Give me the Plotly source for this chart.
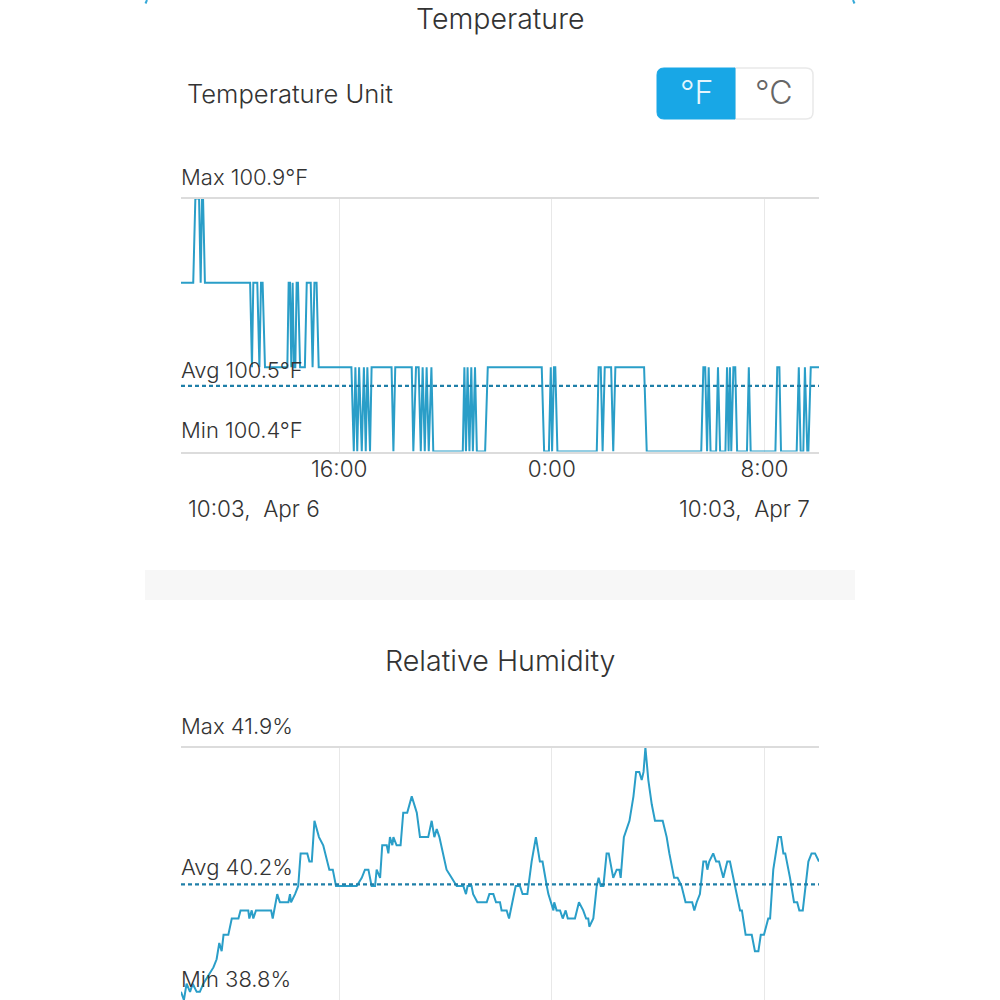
import plotly.graph_objects as go

# hours since 10:03 Apr 6, temperature in F (sensor steps by 0.1 C)
temp_hours = [0, .46, .54, .68, .74, .79, .83, .90, 2.60, 2.67, 2.72, 2.87, 2.95, 3.01, 3.07, 3.16,
              4.00, 4.05, 4.10, 4.15, 4.20, 4.25, 4.30, 4.35, 4.40, 4.48, 4.66, 4.73, 4.88, 4.95, 5.02, 5.10, 5.18,
              6.41, 6.50, 6.56, 6.63, 6.70, 6.80, 6.88, 6.95, 7.01, 7.11, 7.17, 7.92, 7.99, 8.06,
              8.68, 8.74, 8.84, 8.94, 9.02, 9.09, 9.17, 9.24, 9.32, 9.42, 9.49,
              10.60, 10.66, 10.72, 10.78, 10.85, 10.92, 10.98, 11.06, 11.13, 11.44, 11.54,
              13.57, 13.66, 13.84, 13.91, 13.96, 14.03, 14.08, 14.16,
              15.64, 15.71, 15.79, 15.86, 15.94, 16.18, 16.26, 16.34, 17.42, 17.52,
              19.57, 19.65, 19.72, 19.79, 19.85, 19.92, 20.13, 20.20, 20.28,
              20.48, 20.54, 20.60, 20.65, 20.70, 20.78, 20.85, 20.92, 21.29, 21.36, 21.43,
              22.36, 22.43, 22.51, 22.57, 23.16, 23.24, 23.31, 23.41, 23.47, 23.56, 23.60, 23.69, 24.0]
temp_values = [100.76, 100.76, 100.94, 100.94, 100.76, 100.94, 100.94, 100.76, 100.76, 100.58, 100.76, 100.76,
               100.58, 100.76, 100.76, 100.58,
               100.58, 100.76, 100.76, 100.58, 100.76, 100.58, 100.58, 100.76, 100.76, 100.58, 100.58, 100.76,
               100.76, 100.58, 100.76, 100.76, 100.58,
               100.58, 100.4, 100.58, 100.4, 100.58, 100.4, 100.58, 100.4, 100.58, 100.4, 100.58, 100.58, 100.4, 100.58,
               100.58, 100.4, 100.58, 100.58, 100.4, 100.58, 100.4, 100.58, 100.4, 100.58, 100.4,
               100.4, 100.58, 100.4, 100.58, 100.4, 100.58, 100.4, 100.58, 100.4, 100.4, 100.58,
               100.58, 100.4, 100.4, 100.58, 100.4, 100.58, 100.58, 100.4,
               100.4, 100.58, 100.58, 100.4, 100.58, 100.58, 100.4, 100.58, 100.58, 100.4,
               100.4, 100.58, 100.58, 100.4, 100.58, 100.4, 100.4, 100.58, 100.4,
               100.4, 100.58, 100.4, 100.58, 100.4, 100.58, 100.58, 100.4, 100.4, 100.58, 100.4,
               100.4, 100.58, 100.58, 100.4, 100.4, 100.58, 100.4, 100.4, 100.58, 100.4, 100.4, 100.58, 100.58]
temp_avg = 100.54

hum_hours = [0, .11, .21, .34, .44, .59, .71, .84, 1.03, 1.22, 1.34, 1.44, 1.53, 1.60, 1.78, 1.91, 2.16, 2.24,
             2.53, 2.57, 2.66, 2.72, 2.82, 3.39, 3.45, 3.62, 3.72, 4.04, 4.10, 4.14, 4.29, 4.41, 4.50, 4.75,
             4.83, 4.92, 5.02, 5.19, 5.35, 5.58, 5.71, 5.83, 5.98, 6.23, 6.29, 6.61, 6.80, 6.92, 7.05, 7.17,
             7.30, 7.36, 7.49, 7.57, 7.74, 7.80, 7.86, 7.95, 7.99, 8.11, 8.26, 8.36, 8.51, 8.68, 8.87, 8.99,
             9.30, 9.43, 9.53, 9.62, 9.72, 9.99, 10.18, 10.37, 10.62, 10.72, 10.78, 10.93, 10.99, 11.15, 11.50,
             11.60, 11.75, 11.85, 12.00, 12.06, 12.25, 12.34, 12.59, 12.75, 12.85, 13.03, 13.19, 13.35, 13.50,
             13.60, 13.76, 13.82, 14.01, 14.04, 14.13, 14.26, 14.36, 14.47, 14.55, 14.82, 14.97, 15.13, 15.24,
             15.32, 15.36, 15.51, 15.64, 15.71, 15.79, 15.89, 16.01, 16.09, 16.26, 16.39, 16.49, 16.54, 16.66,
             16.76, 16.87, 17.02, 17.12, 17.24, 17.33, 17.40, 17.47, 17.58, 17.71, 17.83, 18.12, 18.27, 18.37,
             18.55, 18.68, 18.83, 18.98, 19.23, 19.31, 19.40, 19.52, 19.65, 19.75, 19.80, 19.87, 20.02, 20.13,
             20.24, 20.40, 20.55, 20.65, 21.03, 21.10, 21.24, 21.47, 21.59, 21.72, 21.81, 21.93, 22.09, 22.16,
             22.28, 22.47, 22.57, 22.66, 22.73, 22.91, 23.06, 23.18, 23.26, 23.39, 23.60, 23.72, 23.85, 24.00]
hum_values = [38.9, 38.8, 39.0, 38.9, 39.0, 38.9, 38.9, 39.0, 39.1, 39.2, 39.3, 39.5, 39.4, 39.6, 39.6, 39.8, 39.8, 39.9,
              39.9, 39.8, 39.9, 39.8, 39.9, 39.9, 39.8, 40.1, 40.0, 40.0, 40.1, 40.0, 40.1, 40.2, 40.6, 40.6,
              40.5, 40.5, 41.0, 40.8, 40.7, 40.4, 40.4, 40.2, 40.2, 40.2, 40.2, 40.2, 40.3, 40.4, 40.4, 40.2,
              40.2, 40.4, 40.3, 40.7, 40.7, 40.6, 40.8, 40.7, 40.8, 40.7, 40.7, 41.1, 41.1, 41.3, 41.1, 40.8,
              40.8, 41.0, 40.8, 40.9, 40.8, 40.4, 40.3, 40.2, 40.2, 40.1, 40.2, 40.2, 40.1, 40.0, 40.0,
              40.1, 40.1, 40.0, 40.0, 39.9, 39.9, 39.8, 40.2, 40.2, 40.1, 40.1, 40.5, 40.8, 40.5,
              40.5, 40.2, 40.1, 39.9, 40.0, 39.9, 39.9, 39.8, 39.9, 39.8, 39.8, 40.0, 39.9, 39.8,
              39.8, 39.7, 39.8, 40.2, 40.3, 40.2, 40.2, 40.6, 40.6, 40.3, 40.4, 40.4, 40.3, 40.8,
              40.9, 41.0, 41.3, 41.6, 41.6, 41.5, 41.6, 41.9, 41.5, 41.2, 41.0, 41.0, 40.8, 40.6,
              40.3, 40.3, 40.2, 40.0, 40.0, 39.9, 40.0, 40.1, 40.5, 40.5, 40.4, 40.5, 40.6, 40.5,
              40.5, 40.3, 40.5, 40.5, 39.9, 39.9, 39.6, 39.6, 39.4, 39.4, 39.6, 39.6, 39.8, 39.8,
              40.4, 40.8, 40.8, 40.6, 40.6, 40.3, 40.0, 40.0, 39.9, 39.9, 40.5, 40.6, 40.6, 40.5]
hum_avg = 40.22

tick_hours = [5.95, 13.95, 21.95]
tick_labels = ["16:00", "0:00", "8:00"]

LINE = "#2a9ec8"
AVG = "#1f7fa8"
TEXT = "#333333"
FONT = "Inter"


def px(x, y):
    # page pixels to paper coordinates
    return x / 1000, 1 - y / 1000


def rounded_left(x0, y0, x1, y1, r):
    a, b = px(x0, y0), px(x1, y1)
    rx, ry = r / 1000, r / 1000
    return (f"M {b[0]} {a[1]} L {a[0] + rx} {a[1]} Q {a[0]} {a[1]} {a[0]} {a[1] - ry} "
            f"L {a[0]} {b[1] + ry} Q {a[0]} {b[1]} {a[0] + rx} {b[1]} L {b[0]} {b[1]} Z")


def rounded_right(x0, y0, x1, y1, r):
    a, b = px(x0, y0), px(x1, y1)
    rx, ry = r / 1000, r / 1000
    return (f"M {a[0]} {a[1]} L {b[0] - rx} {a[1]} Q {b[0]} {a[1]} {b[0]} {a[1] - ry} "
            f"L {b[0]} {b[1] + ry} Q {b[0]} {b[1]} {b[0] - rx} {b[1]} L {a[0]} {b[1]} Z")


fig = go.Figure()

# -------------------------------
# Temperature chart
# -------------------------------
fig.add_trace(go.Scatter(x=temp_hours, y=temp_values, mode='lines', cliponaxis=False,
                         line=dict(color=LINE, width=2), xaxis='x', yaxis='y'))
fig.add_trace(go.Scatter(x=[0, 24], y=[temp_avg, temp_avg], mode='lines', cliponaxis=False,
                         line=dict(color=AVG, width=2.4, dash='4px,3px'), xaxis='x', yaxis='y'))

# -------------------------------
# Humidity chart
# -------------------------------
fig.add_trace(go.Scatter(x=hum_hours, y=hum_values, mode='lines', cliponaxis=False,
                         line=dict(color=LINE, width=2), xaxis='x2', yaxis='y2'))
fig.add_trace(go.Scatter(x=[0, 24], y=[hum_avg, hum_avg], mode='lines', cliponaxis=False,
                         line=dict(color=AVG, width=2.4, dash='4px,3px'), xaxis='x2', yaxis='y2'))

x_common = dict(range=[0, 24], tickvals=tick_hours, showgrid=True, gridcolor="#e8e8e8", gridwidth=1,
                zeroline=False, showline=True, mirror=True, linecolor="#dcdcdc", linewidth=1.5)
y_common = dict(showgrid=False, zeroline=False, showticklabels=False, ticks="")

fig.update_layout(
    width=1000, height=1000, margin=dict(l=0, r=0, t=0, b=0),
    paper_bgcolor="white", plot_bgcolor="white", showlegend=False,
    font=dict(family=FONT, color=TEXT),
    xaxis=dict(domain=[.181, .819], anchor='y', ticktext=tick_labels, ticks="", ticklabelstandoff=-3,
               tickfont=dict(size=22.5, color=TEXT, family=FONT, weight=300), **x_common),
    yaxis=dict(domain=[.5485, .8015], range=[100.4, 100.94], anchor='x', **y_common),
    xaxis2=dict(domain=[.181, .819], anchor='y2', showticklabels=False, ticks="", **x_common),
    yaxis2=dict(domain=[0, .2525], range=[38.8, 41.9], anchor='x2', **y_common),
)

# page furniture: toggle, separator band, corner marks
shapes = [
    dict(type="rect", xref="paper", yref="paper", x0=.145, x1=.855, y0=px(0, 600)[1], y1=px(0, 570)[1],
         fillcolor="#f7f7f7", line_width=0, layer="below"),
    dict(type="path", xref="paper", yref="paper", path=rounded_right(735, 68, 813, 119, 7),
         fillcolor="white", line=dict(color="#e9e9e9", width=1.5)),
    dict(type="path", xref="paper", yref="paper", path=rounded_left(657, 68, 735, 119, 7),
         fillcolor="#18a7e6", line=dict(color="#18a7e6", width=1)),
    dict(type="line", xref="paper", yref="paper", x0=.1455, x1=.147, y0=.9965, y1=1,
         line=dict(color="#35a9d8", width=2)),
    dict(type="line", xref="paper", yref="paper", x0=.8545, x1=.853, y0=.9965, y1=1,
         line=dict(color="#35a9d8", width=2)),
]
fig.update_layout(shapes=shapes)

labels = [
    ("Temperature", 500, 18, 28.5, "center", TEXT),
    ("Temperature Unit", 186, 94, 25.6, "left", TEXT),
    ("°F", 696, 93, 32, "center", "#e4f5fd"),
    ("°C", 774, 93, 32, "center", "#666666"),
    ("Max 100.9°F", 180, 177, 22, "left", TEXT),
    ("Avg 100.5°F", 180, 370, 22, "left", TEXT),
    ("Min 100.4°F", 180, 430, 22, "left", TEXT),
    ("10:03,\u00a0\u00a0Apr 6", 187, 508, 22.5, "left", TEXT),
    ("10:03,\u00a0\u00a0Apr 7", 811, 508, 22.5, "right", TEXT),
    ("Relative Humidity", 500, 660, 28.6, "center", TEXT),
    ("Max 41.9%", 180, 726, 22, "left", TEXT),
    ("Avg 40.2%", 180, 867, 22, "left", TEXT),
    ("Min 38.8%", 180, 979, 22, "left", TEXT),
]
for text, x, y, size, anchor, color in labels:
    ax, ay = px(x, y)
    fig.add_annotation(text=text, x=ax, y=ay, xref="paper", yref="paper", xanchor=anchor, yanchor="middle",
                       showarrow=False, borderpad=0, font=dict(size=size, color=color, family=FONT, weight=300))

fig.write_html("out.html", post_script="document.body.style.margin='0';", config=dict(displayModeBar=False))
